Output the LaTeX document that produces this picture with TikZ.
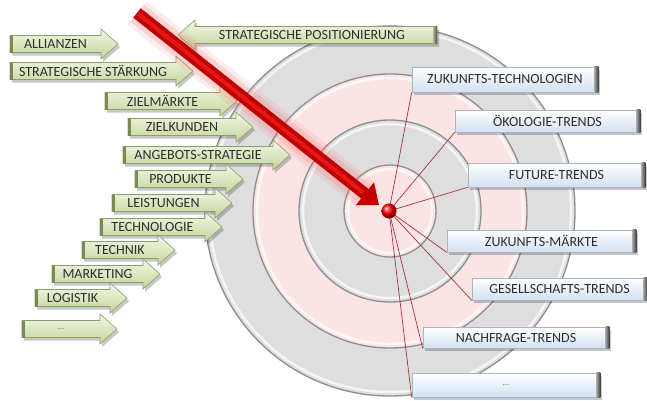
\documentclass[tikz,border=0pt]{standalone}
\usepackage{fontspec}
\setmainfont{Carlito}
\usetikzlibrary{arrows.meta,calc}
\definecolor{ringG}{HTML}{DEDEDE}
\definecolor{ringP}{HTML}{FCE4E4}
\definecolor{ringL}{HTML}{8E8E8E}
\definecolor{gTop}{HTML}{F3F8E6}
\definecolor{gBot}{HTML}{C3D49A}
\definecolor{gBorder}{HTML}{8E9E6A}
\definecolor{gEdge}{HTML}{7A8A55}
\definecolor{bBot}{HTML}{D3E1F2}
\definecolor{bBorder}{HTML}{A9B5C5}
\definecolor{txt}{HTML}{2E2E2E}
\definecolor{connred}{HTML}{A8323E}
\definecolor{arrred}{HTML}{C00000}
\tikzset{
  gtext/.style={inner sep=0pt, text=txt, font=\fontsize{14}{16}\selectfont},
  btext/.style={text=txt, font=\fontsize{14}{16}\selectfont},
  bluebox/.style={draw=bBorder, line width=0.6pt, top color=white, bottom color=bBot, inner sep=0pt},
  conn/.style={draw=connred, line width=0.7pt},
  ring/.style={draw=ringL, line width=1.3pt},
  hilite/.style={draw=white, line width=2.5pt, opacity=0.7}
}
\newcommand{\garr}[5]{%
  \fill[black, opacity=0.22, shift={(2,3)}] (#2,#4-8.5) -- (#3-17,#4-8.5) -- (#3-17,#4-15) -- (#3,#4) -- (#3-17,#4+15) -- (#3-17,#4+8.5) -- (#2,#4+8.5) -- cycle;
  \shade[top color=gTop, bottom color=gBot, draw=gBorder, line width=0.6pt] (#2,#4-8.5) -- (#3-17,#4-8.5) -- (#3-17,#4-15) -- (#3,#4) -- (#3-17,#4+15) -- (#3-17,#4+8.5) -- (#2,#4+8.5) -- cycle;
  \fill[gEdge] (#2,#4-8.5) rectangle (#2+2.5,#4+8.5);
  \node[gtext] (#1) at ({(#2+#3-17)/2},#4) {#5};
}
\newcommand{\bbox}[6]{%
  \fill[black, opacity=0.22] (#2-#4/2+2,#3-#5/2+3) rectangle (#2+#4/2+2,#3+#5/2+3);
  \node[bluebox, minimum width=#4pt, minimum height=#5pt] (#1) at (#2,#3) {};
  \shade[left color=black!35, right color=black!75] ([xshift=-4pt]#1.north east) rectangle (#1.south east);
  \node[btext] at (#2,#3) {#6};
}
\begin{document}
\begin{tikzpicture}[x=1pt,y=-1pt]
\useasboundingbox (0,0) rectangle (647,400);
\fill[white] (0,0) rectangle (647,400);
% target
\coordinate (C) at (390,211);
\fill[ringG] (C) circle[radius=185pt];
\draw[ring] (C) circle[radius=185pt];
\draw[hilite] (C) circle[radius=181pt];
\fill[ringP] (C) circle[radius=137pt];
\draw[ring] (C) circle[radius=137pt];
\draw[hilite] (C) circle[radius=133pt];
\fill[ringG] (C) circle[radius=91pt];
\draw[ring] (C) circle[radius=91pt];
\draw[hilite] (C) circle[radius=87pt];
\fill[ringP] (C) circle[radius=46pt];
\draw[ring] (C) circle[radius=46pt];
\draw[hilite] (C) circle[radius=42pt];
% green arrows
\garr{a1}{10}{118}{44}{ALLIANZEN}
\garr{a2}{10}{193}{71}{STRATEGISCHE STÄRKUNG}
\garr{a3}{105}{237}{101}{ZIELMÄRKTE}
\garr{a4}{128}{253}{127}{ZIELKUNDEN}
\garr{a5}{123}{290}{155}{ANGEBOTS-STRATEGIE}
\garr{a6}{135}{243}{179}{PRODUKTE}
\garr{a7}{112}{232}{203}{LEISTUNGEN}
\garr{a8}{100}{222}{227}{TECHNOLOGIE}
\garr{a9}{82}{175}{250}{TECHNIK}
\garr{a10}{52}{160}{274}{MARKETING}
\garr{a11}{35}{127}{298}{LOGISTIK}
\garr{a12}{22}{117}{329}{\textcolor{gray}{\fontsize{9}{10}\selectfont ...}}
% left-pointing arrow
\fill[black, opacity=0.22, shift={(2,3)}] (437,26.5) -- (195,26.5) -- (195,20) -- (178,35) -- (195,50) -- (195,43.5) -- (437,43.5) -- cycle;
\shade[top color=gTop, bottom color=gBot, draw=gBorder, line width=0.6pt] (437,26.5) -- (195,26.5) -- (195,20) -- (178,35) -- (195,50) -- (195,43.5) -- (437,43.5) -- cycle;
\shade[left color=gEdge!60, right color=black!70] (433,26.5) rectangle (437,43.5);
\node[gtext] (sp) at (312,35) {STRATEGISCHE POSITIONIERUNG};
% blue boxes
\bbox{b1}{505}{79.5}{186}{25}{ZUKUNFTS-TECHNOLOGIEN}
\bbox{b2}{547.5}{121}{185}{22}{ÖKOLOGIE-TRENDS}
\bbox{b3}{556.5}{175}{177}{24}{FUTURE-TRENDS}
\bbox{b4}{541.5}{241}{189}{22}{ZUKUNFTS-MÄRKTE}
\bbox{b5}{559.5}{289}{175}{22}{GESELLSCHAFTS-TRENDS}
\bbox{b6}{516}{337.5}{186}{21}{NACHFRAGE-TRENDS}
\bbox{b7}{506}{385}{188}{24}{\textcolor{gray}{\fontsize{9}{10}\selectfont ...}}
% dot and connectors
\coordinate (D) at (389,211);
\foreach \b in {b1,b2,b3,b4,b5,b6,b7} \draw[conn] (D) -- (\b.south west);
% red arrow
\coordinate (RS) at (137,13);
\coordinate (RE) at (379,205);
\draw[red!60, opacity=0.12, line width=30pt] (RS) -- ($(RE)!14pt!(RS)$);
\draw[red!60, opacity=0.18, line width=22pt] (RS) -- ($(RE)!10pt!(RS)$);
\draw[arrred, line width=12pt, -{Triangle[length=18pt,width=28pt]}] (RS) -- (RE);
\draw[red!85!white, line width=4pt, opacity=0.6] ($(RS)!1pt!(RE)$) -- ($(RE)!20pt!(RS)$);
\shade[ball color=red] (D) circle[radius=7.5pt];
\node[inner sep=0pt, minimum size=15pt, circle] (dot) at (D) {};
\end{tikzpicture}
\end{document}
